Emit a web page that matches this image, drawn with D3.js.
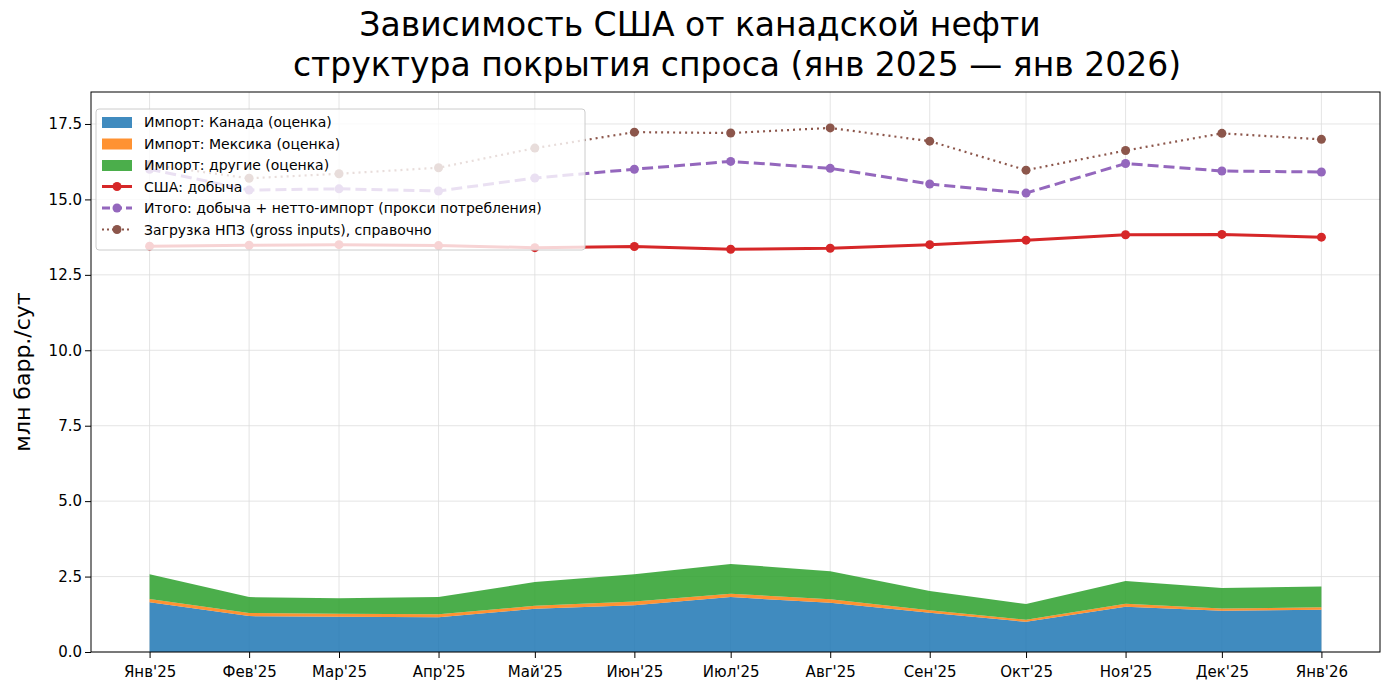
<!DOCTYPE html>
<html><head><meta charset="utf-8">
<script src="https://cdn.jsdelivr.net/npm/d3@7"></script>
<style>body{margin:0;background:#fff;font-family:"DejaVu Sans",sans-serif}</style>
</head><body>
<script>
let months = ["2025-01","2025-02","2025-03","2025-04","2025-05","2025-06","2025-07","2025-08","2025-09","2025-10","2025-11","2025-12","2026-01"]
let tickLabels = ["Янв'25","Фев'25","Мар'25","Апр'25","Май'25","Июн'25","Июл'25","Авг'25","Сен'25","Окт'25","Ноя'25","Дек'25","Янв'26"]
let canada = [1.65,1.19,1.17,1.15,1.43,1.55,1.82,1.63,1.3,1.0,1.5,1.37,1.4]
let mexico = [0.11,0.1,0.1,0.1,0.1,0.12,0.11,0.12,0.08,0.07,0.1,0.07,0.08]
let others = [0.82,0.53,0.51,0.57,0.79,0.91,0.99,0.93,0.64,0.52,0.75,0.68,0.69]
let production = [13.45,13.48,13.5,13.47,13.4,13.44,13.35,13.38,13.5,13.65,13.83,13.84,13.75]
let total = [16.0,15.31,15.35,15.28,15.71,16.0,16.26,16.03,15.51,15.21,16.19,15.94,15.91]
let refinery = [16.15,15.7,15.85,16.05,16.7,17.23,17.2,17.37,16.93,15.97,16.62,17.19,16.99]

let width = 1390, height = 690
let margin = {left: 91, right: 10, top: 92, bottom: 38}
let parse = d3.timeParse("%Y-%m")
let dates = months.map(parse)

let svg = d3.select("body").append("svg").attr("width", width).attr("height", height)

let pad = (dates[12] - dates[0]) * 0.05
let x = d3.scaleTime()
  .domain([new Date(+dates[0] - pad), new Date(+dates[12] + pad)])
  .range([margin.left, width - margin.right])
let y = d3.scaleLinear().domain([0, 18.56]).range([height - margin.bottom, margin.top])

// grid
let yt = d3.range(0, 17.6, 2.5)
svg.append("g").selectAll("line").data(yt).join("line")
  .attr("x1", margin.left).attr("x2", width - margin.right)
  .attr("y1", d => y(d)).attr("y2", d => y(d))
  .attr("stroke", "#ddd").attr("stroke-width", 0.8)
svg.append("g").selectAll("line").data(dates).join("line")
  .attr("y1", margin.top).attr("y2", height - margin.bottom)
  .attr("x1", d => x(d)).attr("x2", d => x(d))
  .attr("stroke", "#ddd").attr("stroke-width", 0.8)

// stacked area
let rows = dates.map((d, i) => ({date: d, canada: canada[i], mexico: mexico[i], others: others[i]}))
let stack = d3.stack().keys(["canada","mexico","others"])(rows)
let areaColors = ["#1f77b4","#ff7f0e","#2ca02c"]
let area = d3.area().x(d => x(d.data.date)).y0(d => y(d[0])).y1(d => y(d[1]))
svg.append("g").selectAll("path").data(stack).join("path")
  .attr("d", area).attr("fill", (d, i) => areaColors[i]).attr("fill-opacity", 0.85)

function series(vals, color, dash, sw) {
  let line = d3.line().x((d, i) => x(dates[i])).y(d => y(d))
  svg.append("path").datum(vals).attr("d", line).attr("fill", "none")
    .attr("stroke", color).attr("stroke-width", sw).attr("stroke-dasharray", dash)
  svg.append("g").selectAll("circle").data(vals).join("circle")
    .attr("cx", (d, i) => x(dates[i])).attr("cy", d => y(d)).attr("r", 4.5).attr("fill", color)
}
series(production, "#d62728", null, 3)
series(total, "#9467bd", "11,5", 3)
series(refinery, "#8c564b", "2,4", 2.2)

// axes
svg.append("rect").attr("x", margin.left).attr("y", margin.top)
  .attr("width", width - margin.left - margin.right).attr("height", height - margin.top - margin.bottom)
  .attr("fill", "none").attr("stroke", "#000").attr("stroke-width", 1)
let xAxis = svg.append("g").attr("transform", `translate(0,${height - margin.bottom})`)
  .call(d3.axisBottom(x).tickValues(dates).tickFormat((d, i) => tickLabels[i]).tickSizeOuter(0))
let yAxis = svg.append("g").attr("transform", `translate(${margin.left},0)`)
  .call(d3.axisLeft(y).tickValues(yt).tickFormat(d3.format(".1f")).tickSizeOuter(0))
for (let a of [xAxis, yAxis]) {
  a.select(".domain").remove()
  a.selectAll("text").attr("font-size", 15).attr("font-family", "DejaVu Sans").attr("fill", "#000")
  a.selectAll("line").attr("stroke", "#000")
}
xAxis.selectAll("text").attr("dy", "1.05em")

svg.append("text").attr("transform", `translate(30,${(margin.top + height - margin.bottom) / 2}) rotate(-90)`)
  .attr("text-anchor", "middle").attr("font-size", 22).text("млн барр./сут")

svg.append("text").attr("x", width / 2 + 5).attr("y", 36).attr("text-anchor", "middle")
  .attr("font-size", 33).text("Зависимость США от канадской нефти")
svg.append("text").attr("x", width / 2 + 42).attr("y", 76).attr("text-anchor", "middle")
  .attr("font-size", 33).text("структура покрытия спроса (янв 2025 — янв 2026)")

// legend
let lg = svg.append("g").attr("transform", "translate(96,109)")
lg.append("rect").attr("width", 489).attr("height", 141).attr("rx", 3)
  .attr("fill", "#fff").attr("fill-opacity", 0.8).attr("stroke", "#ccc")
let items = [
  {t: "Импорт: Канада (оценка)", c: "#1f77b4", k: "a"},
  {t: "Импорт: Мексика (оценка)", c: "#ff7f0e", k: "a"},
  {t: "Импорт: другие (оценка)", c: "#2ca02c", k: "a"},
  {t: "США: добыча", c: "#d62728", k: "l", dash: null, sw: 3},
  {t: "Итого: добыча + нетто-импорт (прокси потребления)", c: "#9467bd", k: "l", dash: "8,4", sw: 3},
  {t: "Загрузка НПЗ (gross inputs), справочно", c: "#8c564b", k: "l", dash: "2,3", sw: 2.2}
]
items.forEach((d, i) => {
  let g = lg.append("g").attr("transform", `translate(6,${13 + i * 21.5})`)
  if (d.k === "a") {
    g.append("rect").attr("x", 0).attr("y", -5).attr("width", 30).attr("height", 11)
      .attr("fill", d.c).attr("fill-opacity", 0.85)
  } else {
    g.append("line").attr("x1", 0).attr("x2", 30).attr("stroke", d.c)
      .attr("stroke-width", d.sw).attr("stroke-dasharray", d.dash)
    g.append("circle").attr("cx", 15).attr("r", 4.5).attr("fill", d.c)
  }
  g.append("text").attr("x", 42).attr("y", 5).attr("font-size", 14).text(d.t)
})
</script>
</body></html>
